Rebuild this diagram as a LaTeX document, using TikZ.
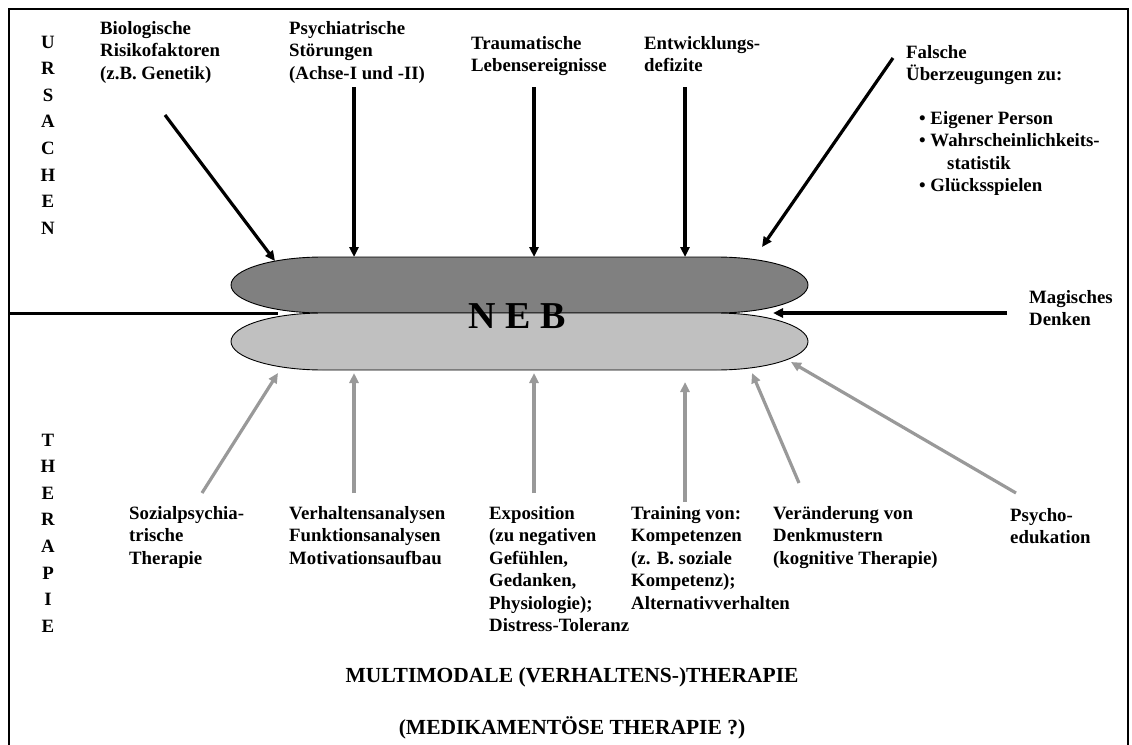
\documentclass[tikz,border=0pt]{standalone}
\usepackage{fontspec}
\setmainfont{Liberation Serif}
\usetikzlibrary{arrows.meta}
\definecolor{darkfill}{RGB}{128,128,128}
\definecolor{lightfill}{RGB}{192,192,192}
\definecolor{arrgray}{RGB}{153,153,153}
\newcommand{\mlines}[1]{\begin{tabular}[t]{@{}l@{}}#1\end{tabular}}
\newcommand{\vletters}[1]{\begin{tabular}[t]{@{}c@{}}#1\end{tabular}}
\begin{document}
\begin{tikzpicture}[x=1pt,y=-1pt,
  lbl/.style={inner sep=0pt, anchor=base west, font=\fontsize{18.8}{22.5}\selectfont\bfseries},
  side/.style={inner sep=0pt, anchor=base, font=\fontsize{18.8}{26.6}\selectfont\bfseries},
  big/.style={inner sep=0pt, anchor=base, font=\fontsize{21.5}{26}\selectfont\bfseries},
  cause/.style={line width=3.2pt, -{Triangle[length=10pt,width=9pt]}},
  ther/.style={draw=arrgray, line width=3.2pt, -{Triangle[length=10pt,width=9pt]}},
  blob/.style={draw=black, line width=0.9pt}]
\useasboundingbox (0,0) rectangle (1132,744);
% frame
\draw[line width=2pt] (9,750) -- (9,9) -- (1128,9) -- (1128,750);
% blobs (half-ellipse ends, rx = 92)
\draw[blob, fill=darkfill] (323,257) -- (716,257)
  .. controls (766.8,257) and (808,269.5) .. (808,285)
  .. controls (808,300.5) and (766.8,313) .. (716,313)
  -- (323,313)
  .. controls (272.2,313) and (231,300.5) .. (231,285)
  .. controls (231,269.5) and (272.2,257) .. (323,257) -- cycle;
\draw[blob, fill=lightfill] (323,313) -- (716,313)
  .. controls (766.8,313) and (808,325.8) .. (808,341.5)
  .. controls (808,357.2) and (766.8,370) .. (716,370)
  -- (323,370)
  .. controls (272.2,370) and (231,357.2) .. (231,341.5)
  .. controls (231,325.8) and (272.2,313) .. (323,313) -- cycle;
\node[inner sep=0pt, anchor=base, font=\fontsize{38}{40}\selectfont\bfseries] (neb) at (517,328) {N E B};
% side labels
\node[side] (urs) at (48,48) {\vletters{U\\R\\S\\A\\C\\H\\E\\N}};
\node[side] (thp) at (48,446) {\vletters{T\\H\\E\\R\\A\\P\\I\\E}};
% causes
\node[lbl] (bio) at (100,34) {\mlines{Biologische\\Risikofaktoren\\(z.B. Genetik)}};
\node[lbl] (psy) at (289,34) {\mlines{Psychiatrische\\Störungen\\(Achse-I und -II)}};
\node[lbl] (trau) at (471,49) {\mlines{Traumatische\\Lebensereignisse}};
\node[lbl] (entw) at (644,49) {\mlines{Entwicklungs-\\defizite}};
\node[lbl] (fals) at (906,58) {\mlines{Falsche\\Überzeugungen zu:}};
\node[lbl] (bul) at (919,124) {\mlines{• Eigener Person\\• Wahrscheinlichkeits-\\\hspace{28pt}statistik\\• Glücksspielen}};
\node[lbl] (mag) at (1029,303) {\mlines{Magisches\\Denken}};
% therapies
\node[lbl] (soz) at (129,519) {\mlines{Sozialpsychia-\\trische\\Therapie}};
\node[lbl] (verh) at (289,519) {\mlines{Verhaltensanalysen\\Funktionsanalysen\\Motivationsaufbau}};
\node[lbl] (expo) at (489,519) {\mlines{Exposition\\(zu negativen\\Gefühlen,\\Gedanken,\\Physiologie);\\Distress-Toleranz}};
\node[lbl] (train) at (631,519) {\mlines{Training von:\\Kompetenzen\\(z. B. soziale\\Kompetenz);\\Alternativverhalten}};
\node[lbl] (veraend) at (773,519) {\mlines{Veränderung von\\Denkmustern\\(kognitive Therapie)}};
\node[lbl] (psyed) at (1010,521) {\mlines{Psycho-\\edukation}};
\node[big] (multi) at (572,682) {MULTIMODALE (VERHALTENS-)THERAPIE};
\node[big] (medi) at (572,734) {(MEDIKAMENTÖSE THERAPIE ?)};
% connector coordinates
\coordinate (bioS) at (165,115); \coordinate (bioT) at (275,261);
\coordinate (psyS) at (354,87);  \coordinate (psyT) at (354,257);
\coordinate (trauS) at (534,87); \coordinate (trauT) at (534,257);
\coordinate (entwS) at (685,87); \coordinate (entwT) at (685,257);
\coordinate (falsS) at (893,58); \coordinate (falsT) at (762,247);
\coordinate (magS) at (1007,313); \coordinate (magT) at (773,313);
\coordinate (lineL) at (10,313); \coordinate (lineR) at (278,313);
\coordinate (sozS) at (202,493); \coordinate (sozT) at (278,373);
\coordinate (verhS) at (354,493); \coordinate (verhT) at (354,373);
\coordinate (expoS) at (534,493); \coordinate (expoT) at (534,373);
\coordinate (trainS) at (685,502); \coordinate (trainT) at (685,382);
\coordinate (verS) at (799,483); \coordinate (verT) at (752,373);
\coordinate (psyedS) at (1016,493); \coordinate (psyedT) at (791,362);
% connectors
\draw[cause] (bioS) -- (bioT);
\draw[cause] (psyS) -- (psyT);
\draw[cause] (trauS) -- (trauT);
\draw[cause] (entwS) -- (entwT);
\draw[cause] (falsS) -- (falsT);
\draw[cause] (magS) -- (magT);
\draw[line width=3pt] (lineL) -- (lineR);
\draw[ther] (sozS) -- (sozT);
\draw[ther] (verhS) -- (verhT);
\draw[ther] (expoS) -- (expoT);
\draw[ther] (trainS) -- (trainT);
\draw[ther] (verS) -- (verT);
\draw[ther] (psyedS) -- (psyedT);
\end{tikzpicture}
\end{document}
